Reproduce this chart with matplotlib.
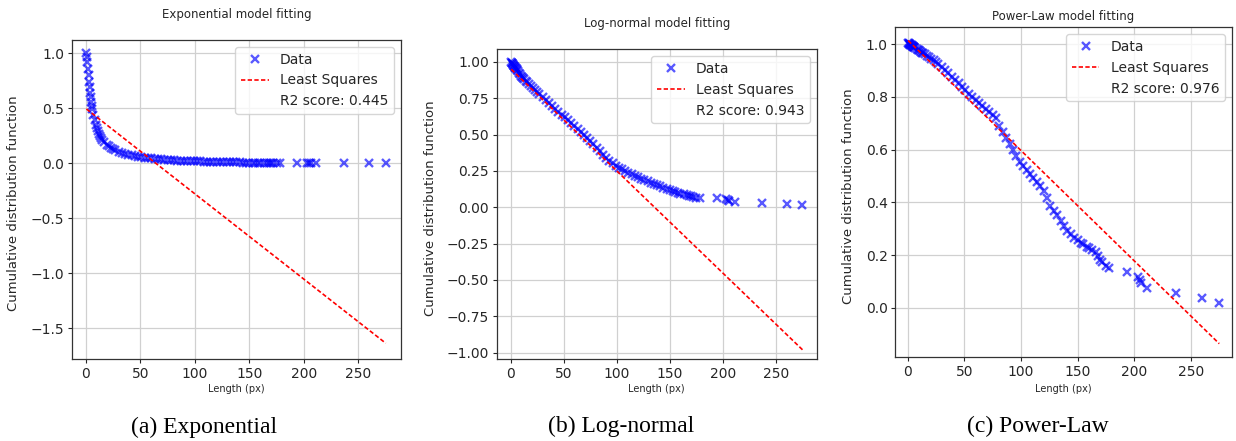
import numpy as np
import matplotlib
matplotlib.use("Agg")
import matplotlib.pyplot as plt

# ---------------- data ----------------
length_px = [0.5, 1, 1.5, 2, 2.5, 3, 3.5, 4, 4.5, 5, 5.5, 6, 7, 8, 9, 10, 11, 12, 13, 14,
             15, 17, 19, 21, 23, 25, 27, 30, 33, 36, 39, 42, 45, 48, 51, 54, 57, 60, 63, 66,
             69, 72, 75, 78, 81, 84, 87, 90, 93, 96, 99, 102, 105, 108, 111, 114, 117, 120,
             123, 126, 129, 132, 135, 138, 141, 144, 147, 150, 153, 155, 158, 160, 163, 166,
             168, 170, 172, 175, 178, 194, 203, 205, 206, 211, 237, 260, 275]

cdf_exponential = [1.0, 0.97, 0.92, 0.86, 0.8, 0.74, 0.69, 0.64, 0.6, 0.56, 0.52, 0.49, 0.44,
                   0.39, 0.35, 0.32, 0.29, 0.265, 0.245, 0.228, 0.212, 0.19, 0.17, 0.155, 0.14,
                   0.128, 0.118, 0.105, 0.095, 0.086, 0.079, 0.072, 0.066, 0.06, 0.055, 0.051,
                   0.047, 0.044, 0.041, 0.038, 0.035, 0.033, 0.031, 0.029, 0.027, 0.025, 0.024,
                   0.022, 0.021, 0.02, 0.019, 0.018, 0.017, 0.016, 0.015, 0.014, 0.013, 0.012,
                   0.011, 0.011, 0.01, 0.009, 0.009, 0.008, 0.008, 0.007, 0.007, 0.006, 0.006,
                   0.006, 0.005, 0.005, 0.005, 0.004, 0.004, 0.004, 0.004, 0.003, 0.003, 0.003,
                   0.002, 0.002, 0.002, 0.002, 0.001, 0.001, 0.0]

cdf_lognormal = [1.0, 0.995, 0.99, 0.985, 0.98, 0.975, 0.97, 0.965, 0.96, 0.955, 0.95, 0.945,
                 0.935, 0.925, 0.915, 0.905, 0.896, 0.888, 0.88, 0.872, 0.864, 0.85, 0.835,
                 0.82, 0.806, 0.792, 0.778, 0.758, 0.738, 0.718, 0.698, 0.678, 0.658, 0.638,
                 0.618, 0.598, 0.578, 0.558, 0.538, 0.516, 0.494, 0.474, 0.455, 0.432, 0.408,
                 0.384, 0.362, 0.34, 0.32, 0.302, 0.286, 0.272, 0.26, 0.248, 0.237, 0.226,
                 0.216, 0.206, 0.197, 0.188, 0.179, 0.17, 0.161, 0.152, 0.143, 0.134, 0.125,
                 0.117, 0.109, 0.104, 0.098, 0.094, 0.088, 0.083, 0.079, 0.075, 0.072, 0.066,
                 0.062, 0.062, 0.055, 0.048, 0.042, 0.035, 0.03, 0.022, 0.015]

cdf_powerlaw = [1.004, 1.003, 1.001, 1.0, 0.998, 0.997, 0.995, 0.994, 0.992, 0.991, 0.989,
                0.988, 0.985, 0.982, 0.979, 0.976, 0.973, 0.971, 0.968, 0.965, 0.962, 0.957,
                0.951, 0.945, 0.939, 0.932, 0.925, 0.913, 0.901, 0.889, 0.877, 0.864, 0.851,
                0.838, 0.825, 0.812, 0.8, 0.789, 0.777, 0.766, 0.755, 0.744, 0.733, 0.721,
                0.688, 0.666, 0.643, 0.62, 0.598, 0.576, 0.554, 0.538, 0.523, 0.508, 0.493,
                0.477, 0.461, 0.444, 0.415, 0.387, 0.368, 0.35, 0.331, 0.311, 0.293, 0.278,
                0.266, 0.256, 0.247, 0.24, 0.231, 0.226, 0.219, 0.21, 0.196, 0.182, 0.172,
                0.16, 0.15, 0.137, 0.118, 0.105, 0.095, 0.076, 0.057, 0.038, 0.019]

# least-squares fits (slope, intercept)
fit_exponential = (-0.00776, 0.498)
fit_lognormal = (-0.00703, 0.953)
fit_powerlaw = (-0.00419, 1.016)

r2_scores = ["0.445", "0.943", "0.976"]
titles = ["Exponential model fitting", "Log-normal model fitting", "Power-Law model fitting"]
captions = ["(a) Exponential", "(b) Log-normal", "(c) Power-Law"]

# ---------------- layout ----------------
W, H = 1236, 441
fig = plt.figure(figsize=(W / 100, H / 100), dpi=100)

def px_axes(l, t, r, b):
    return fig.add_axes([l / W, 1 - b / H, (r - l) / W, (b - t) / H])

panels = [
    dict(box=(72, 40, 400.7, 359.3), y=cdf_exponential, fit=fit_exponential,
         xlim=(-12.7, 288.7), ylim=(-1.782, 1.121), yticks=[-1.5, -1.0, -0.5, 0.0, 0.5, 1.0],
         fmt="{:.1f}", title_y=14.5, ylab_x=14, cap_x=203.7, cap_y=427.5),
    dict(box=(496.7, 49.3, 816.7, 359.3), y=cdf_lognormal, fit=fit_lognormal,
         xlim=(-13.2, 288.4), ylim=(-1.046, 1.087),
         yticks=[-1.0, -0.75, -0.5, -0.25, 0.0, 0.25, 0.5, 0.75, 1.0],
         fmt="{:.2f}", title_y=24, ylab_x=430.5, cap_x=621.3, cap_y=426.7),
    dict(box=(895.3, 27.3, 1231.7, 357.3), y=cdf_powerlaw, fit=fit_powerlaw,
         xlim=(-10.8, 286.0), ylim=(-0.188, 1.064), yticks=[0.0, 0.2, 0.4, 0.6, 0.8, 1.0],
         fmt="{:.1f}", title_y=16.7, ylab_x=849, cap_x=1037.5, cap_y=426.7),
]

txt_col = "#262626"
x_data = np.array(length_px)

for i, p in enumerate(panels):
    l, t, r, b = p["box"]
    ax = px_axes(l, t, r, b)
    y_data = np.array(p["y"])
    slope, intercept = p["fit"]
    x_line = np.array([x_data.min(), x_data.max()])

    ax.plot(x_data, y_data, "x", color="blue", alpha=0.65, markersize=6, markeredgewidth=1.7,
            label="Data", zorder=3)
    ax.plot(x_line, slope * x_line + intercept, "--", color="red", lw=1.2, dashes=(2.6, 1.4),
            label="Least Squares", zorder=4)
    ax.plot([], [], " ", label=f"R2 score: {r2_scores[i]}")

    ax.set_xlim(*p["xlim"])
    ax.set_ylim(*p["ylim"])
    ax.set_xticks([0, 50, 100, 150, 200, 250])
    ax.set_yticks(p["yticks"])
    ax.set_yticklabels([p["fmt"].format(v).replace("-", "\u2212") for v in p["yticks"]])
    ax.grid(True, color="#d0d0d0", lw=0.9)
    ax.set_axisbelow(True)
    ax.tick_params(labelsize=10, colors=txt_col, length=3, width=0.8, pad=2.5)
    for s in ax.spines.values():
        s.set_color("#333333")
        s.set_linewidth(0.9)

    ax.legend(loc="upper right", fontsize=10, framealpha=0.8, edgecolor="#cccccc",
              borderaxespad=0.5, labelcolor=txt_col)

    cx = (l + r) / 2
    cy = (t + b) / 2
    fig.text(cx / W, 1 - p["title_y"] / H, titles[i], ha="center", va="center",
             fontsize=8.5, color=txt_col)
    fig.text(cx / W, 1 - 388.5 / H, "Length (px)", ha="center", va="center",
             fontsize=7, color=txt_col)
    fig.text(p["ylab_x"] / W, 1 - (cy + 4) / H, "Cumulative distribution function",
             rotation=90, ha="center", va="center", fontsize=9.5, color=txt_col)
    fig.text(p["cap_x"] / W, 1 - p["cap_y"] / H, captions[i], ha="center", va="center",
             fontsize=17, family="Liberation Serif", color="black")

fig.savefig("out.png", dpi=100)
